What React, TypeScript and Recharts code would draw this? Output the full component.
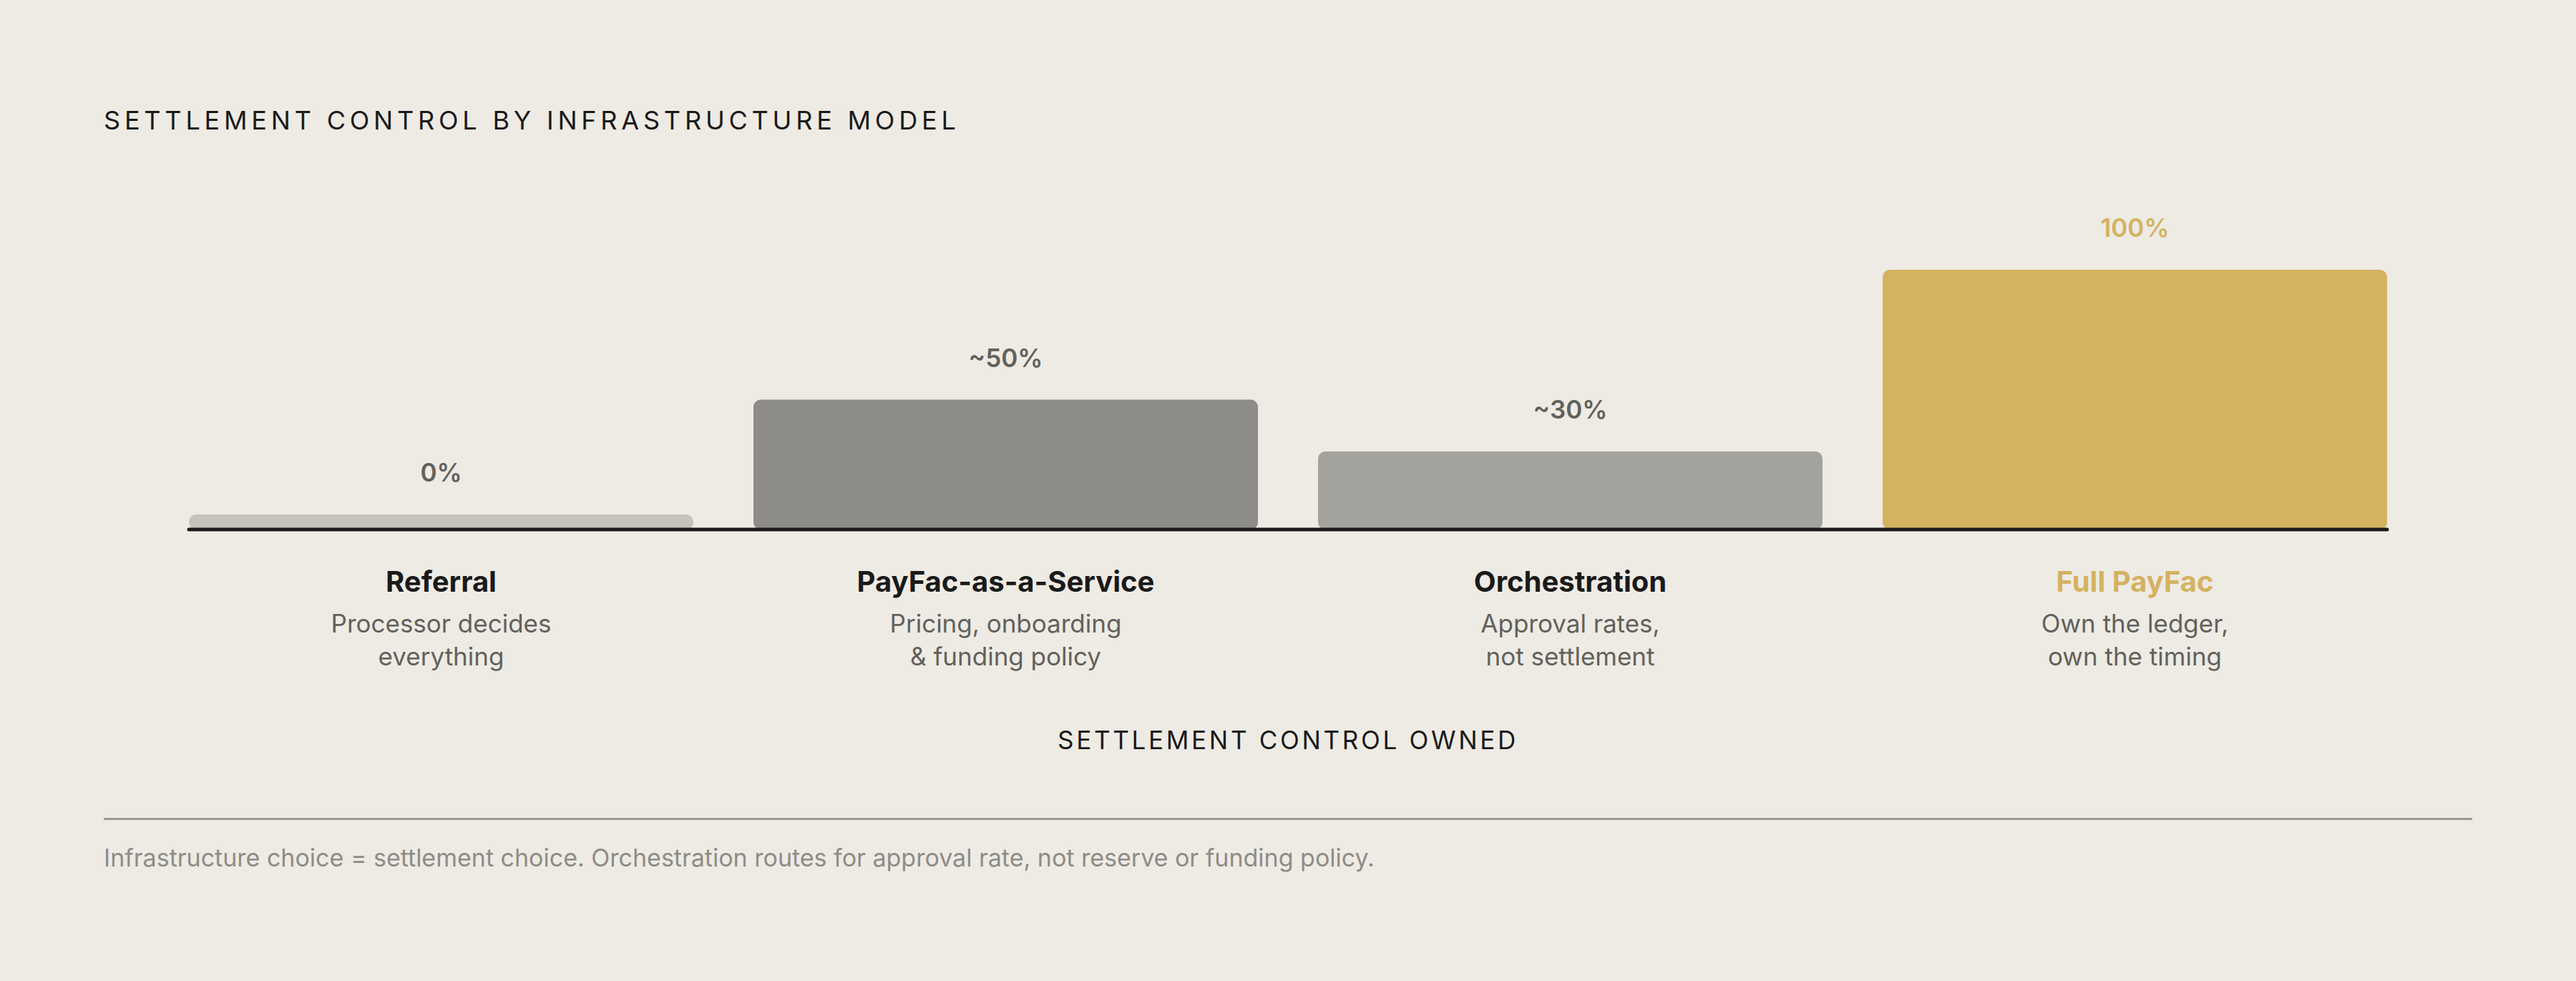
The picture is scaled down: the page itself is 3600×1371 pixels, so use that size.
import React from "react";
import { Bar, BarChart, Cell, LabelList, XAxis, YAxis, Label } from "recharts";

document.body.style.margin = "0";

const categories = ["Referral", "PayFac-as-a-Service", "Orchestration", "Full PayFac"];
const controlOwned = [0, 50, 30, 100];
const valueLabels = ["0%", "~50%", "~30%", "100%"];
const descLine1 = ["Processor decides", "Pricing, onboarding", "Approval rates,", "Own the ledger,"];
const descLine2 = ["everything", "& funding policy", "not settlement", "own the timing"];
const barColors = ["#C6C3BC", "#8D8C88", "#A3A29D", "#D4B261"];

const GOLD = "#D4B261";
const INK = "#1A1A1A";
const MUTED = "#62615C";
const FONT = "Inter, 'Noto Sans', sans-serif";

const data = categories.map((name, i) => ({
  name,
  value: controlOwned[i],
  label: valueLabels[i],
}));

function CategoryTick(props: any) {
  const { x, y, payload } = props;
  const i = categories.indexOf(payload.value);
  const highlight = i === categories.length - 1;
  return (
    <g transform={`translate(${x},${y})`} fontFamily={FONT}>
      <text y={87} textAnchor="middle" fontSize={40} fontWeight={700} fill={highlight ? GOLD : INK}>
        {payload.value}
      </text>
      <text y={144} textAnchor="middle" fontSize={35} fill={MUTED}>
        {descLine1[i]}
      </text>
      <text y={190} textAnchor="middle" fontSize={35} fill={MUTED}>
        {descLine2[i]}
      </text>
    </g>
  );
}

function ValueLabel(props: any) {
  const { x, y, width, value, index } = props;
  const highlight = index === categories.length - 1;
  return (
    <text
      x={x + width / 2}
      y={y - 46}
      textAnchor="middle"
      fontFamily={FONT}
      fontSize={35}
      fontWeight={600}
      fill={highlight ? GOLD : MUTED}
    >
      {value}
    </text>
  );
}

function AxisTitle(props: any) {
  const { viewBox } = props;
  return (
    <text
      x={viewBox.x + viewBox.width / 2}
      y={viewBox.y + 307}
      textAnchor="middle"
      fontFamily={FONT}
      fontSize={35}
      letterSpacing={3.7}
      fill={INK}
    >
      SETTLEMENT CONTROL OWNED
    </text>
  );
}

export default function App() {
  return (
    <div style={{ position: "relative", width: 3600, height: 1371, background: "#EEEBE4", fontFamily: FONT, overflow: "hidden" }}>
      <div
        style={{
          position: "absolute",
          left: 145,
          top: 150,
          fontSize: 36,
          lineHeight: "36px",
          letterSpacing: 5.8,
          color: INK,
          whiteSpace: "nowrap",
        }}
      >
        SETTLEMENT CONTROL BY INFRASTRUCTURE MODEL
      </div>

      <div style={{ position: "absolute", left: 0, top: 0 }}>
        <BarChart
          width={3600}
          height={1100}
          data={data}
          margin={{ top: 377, right: 264, left: 264, bottom: 0 }}
          barCategoryGap={42}
        >
          <YAxis hide domain={[0, 100]} />
          <XAxis
            dataKey="name"
            height={360}
            padding={{ left: -42, right: -42 }}
            tickLine={false}
            tickSize={0}
            tickMargin={0}
            axisLine={{ stroke: INK, strokeWidth: 5, strokeLinecap: "round" }}
            tick={<CategoryTick />}
            interval={0}
          >
            <Label content={<AxisTitle />} />
          </XAxis>
          <Bar dataKey="value" radius={10} minPointSize={21} isAnimationActive={false}>
            {data.map((d, i) => (
              <Cell key={d.name} fill={barColors[i]} />
            ))}
            <LabelList dataKey="label" content={<ValueLabel />} />
          </Bar>
        </BarChart>
      </div>

      <div style={{ position: "absolute", left: 145, top: 1143, width: 3310, height: 3, background: "#9B9993" }} />

      <div
        style={{
          position: "absolute",
          left: 145,
          top: 1182,
          fontSize: 34,
          lineHeight: "34px",
          color: "#8E8C87",
          whiteSpace: "nowrap",
        }}
      >
        Infrastructure choice = settlement choice. Orchestration routes for approval rate, not reserve or funding policy.
      </div>
    </div>
  );
}
